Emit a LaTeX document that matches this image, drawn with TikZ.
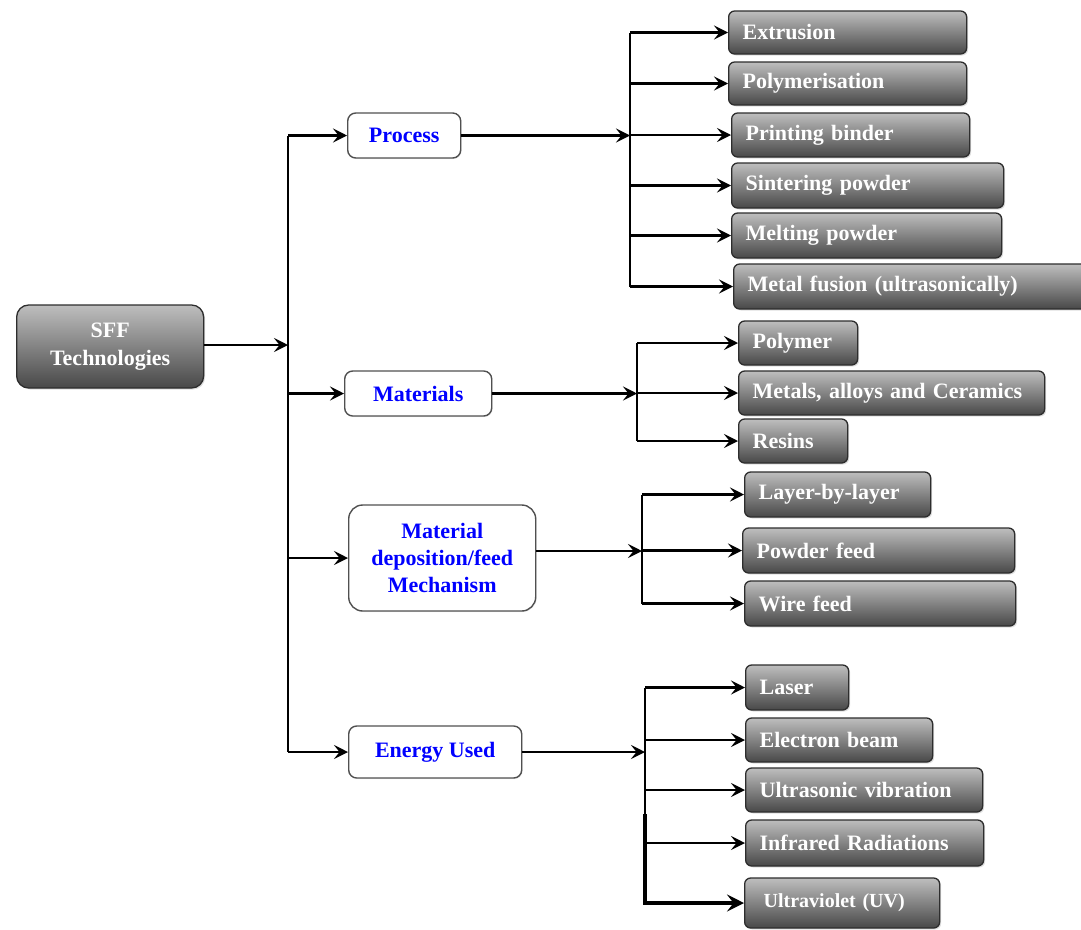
\documentclass[tikz,border=0pt]{standalone}
\usepackage{fontspec}
\setmainfont{Liberation Serif}
\usetikzlibrary{arrows.meta,shadows}
\definecolor{gtop}{RGB}{190,190,190}
\definecolor{gbot}{RGB}{72,72,72}
\definecolor{gline}{RGB}{45,45,45}
\definecolor{wline}{RGB}{80,80,80}
\tikzset{
  gbox/.style={draw=gline, line width=1.3pt, rounded corners=6pt,
    top color=gtop, bottom color=gbot, text=white,
    font=\bfseries\fontsize{22}{26}\selectfont, align=left,
    inner xsep=14pt, inner ysep=0pt, anchor=west,
    drop shadow={opacity=0.25, shadow xshift=1.5pt, shadow yshift=-1.5pt}},
  wbox/.style={draw=wline, line width=1.4pt, rounded corners=8pt, fill=white,
    text=blue, font=\bfseries\fontsize{22}{27}\selectfont, align=center,
    inner sep=0pt, anchor=west,
    drop shadow={opacity=0.15, shadow xshift=1pt, shadow yshift=-1pt}},
  arr/.style={-{Stealth[length=14pt,width=14pt,inset=5.5pt]}, line width=2.3pt},
  ln/.style={line width=2.3pt},
  thickarr/.style={-{Stealth[length=17pt,width=17pt,inset=6.5pt]}, line width=3.2pt},
}
\begin{document}
\begin{tikzpicture}[x=1pt,y=-1pt]
\useasboundingbox (0,0) rectangle (1081,929);

% root
\node[gbox, rounded corners=12pt, align=center, inner xsep=0pt,
  font=\bfseries\fontsize{22}{28}\selectfont,
  minimum width=187pt, minimum height=83pt] (sff) at (16,346.5) {SFF\\Technologies};

% level 1
\node[wbox, minimum width=113pt, minimum height=45pt] (proc) at (347,135.5) {Process};
\node[wbox, minimum width=147pt, minimum height=45pt] (mat) at (344,393.5) {Materials};
\node[wbox, rounded corners=14pt, minimum width=187pt, minimum height=106pt] (dep) at (348,558) {Material\\deposition/feed\\Mechanism};
\node[wbox, minimum width=173pt, minimum height=52pt] (en) at (348,752) {Energy Used};

% trunk
\coordinate (t0) at (288,345);
\coordinate (ttop) at (288,135.5);
\coordinate (tbot) at (288,752);
\draw[arr] (sff.east |- t0) -- (t0);
\draw[ln] (ttop) -- (tbot);
\draw[arr] (ttop) -- (proc.west);
\draw[arr] (t0 |- mat.west) -- (mat.west);
\draw[arr] (t0 |- dep.west) -- (dep.west);
\draw[arr] (tbot) -- (en.west);

% process children
\node[gbox, text width=210pt, minimum height=43pt] (ext) at (728,32.5) {Extrusion};
\node[gbox, text width=210pt, minimum height=43pt] (pol) at (728,83.5) {Polymerisation};
\node[gbox, text width=210pt, minimum height=44pt] (pb) at (731,135) {Printing binder};
\node[gbox, text width=244pt, minimum height=45pt] (sint) at (731,185.5) {Sintering powder};
\node[gbox, text width=242pt, minimum height=45pt] (melt) at (731,235.5) {Melting powder};
\node[gbox, text width=334pt, minimum height=45pt] (mf) at (733,286.5) {Metal fusion (ultrasonically)};

\coordinate (pj) at (630,135.5);
\coordinate (ptop) at (pj |- ext.west);
\coordinate (pbot) at (pj |- mf.west);
\draw[arr] (proc.east) -- (pj);
\draw[ln] (ptop) -- (pbot);
\foreach \n in {ext,pol,pb,sint,melt,mf} \draw[arr] (ptop |- \n.west) -- (\n.west);

% materials children
\node[gbox, text width=91pt, minimum height=44pt] (polym) at (738,343) {Polymer};
\node[gbox, text width=278pt, minimum height=44pt] (metals) at (738,393) {Metals, alloys and Ceramics};
\node[gbox, text width=81pt, minimum height=44pt] (resins) at (738,441) {Resins};

\coordinate (mj) at (637,393.5);
\coordinate (mtop) at (mj |- polym.west);
\coordinate (mbot) at (mj |- resins.west);
\draw[arr] (mat.east) -- (mj);
\draw[ln] (mtop) -- (mbot);
\foreach \n in {polym,metals,resins} \draw[arr] (mtop |- \n.west) -- (\n.west);

% deposition children
\node[gbox, text width=158pt, minimum height=45pt] (layer) at (744,494.5) {Layer-by-layer};
\node[gbox, text width=244pt, minimum height=45pt] (powder) at (742,550.5) {Powder feed};
\node[gbox, text width=243pt, minimum height=45pt] (wire) at (744,603.5) {Wire feed};

\coordinate (dj) at (642,551);
\coordinate (dtop) at (dj |- layer.west);
\coordinate (dbot) at (dj |- wire.west);
\draw[arr] (dep.east |- dj) -- (dj);
\draw[ln] (dtop) -- (dbot);
\foreach \n in {layer,powder,wire} \draw[arr] (dtop |- \n.west) -- (\n.west);

% energy children
\node[gbox, text width=75pt, minimum height=45pt] (laser) at (745,687.5) {Laser};
\node[gbox, text width=159pt, minimum height=44pt] (ebeam) at (745,740) {Electron beam};
\node[gbox, text width=209pt, minimum height=44pt] (ultra) at (745,790) {Ultrasonic vibration};
\node[gbox, text width=210pt, minimum height=46pt] (ir) at (745,843) {Infrared Radiations};
\node[gbox, font=\bfseries\fontsize{20}{24}\selectfont, inner xsep=19pt, text width=157pt, minimum height=50pt] (uv) at (744,903) {Ultraviolet (UV)};

\coordinate (ej) at (645,752);
\coordinate (etop) at (ej |- laser.west);
\coordinate (emid) at (645,814);
\coordinate (ebot) at (ej |- uv.west);
\draw[arr] (en.east) -- (ej);
\draw[ln] (etop) -- (emid);
\draw[line width=3.2pt] (emid) -- (ebot);
\foreach \n in {laser,ebeam,ultra,ir} \draw[arr] (etop |- \n.west) -- (\n.west);
\draw[thickarr] ([xshift=-1.6pt]ebot) -- (uv.west);
\end{tikzpicture}
\end{document}
